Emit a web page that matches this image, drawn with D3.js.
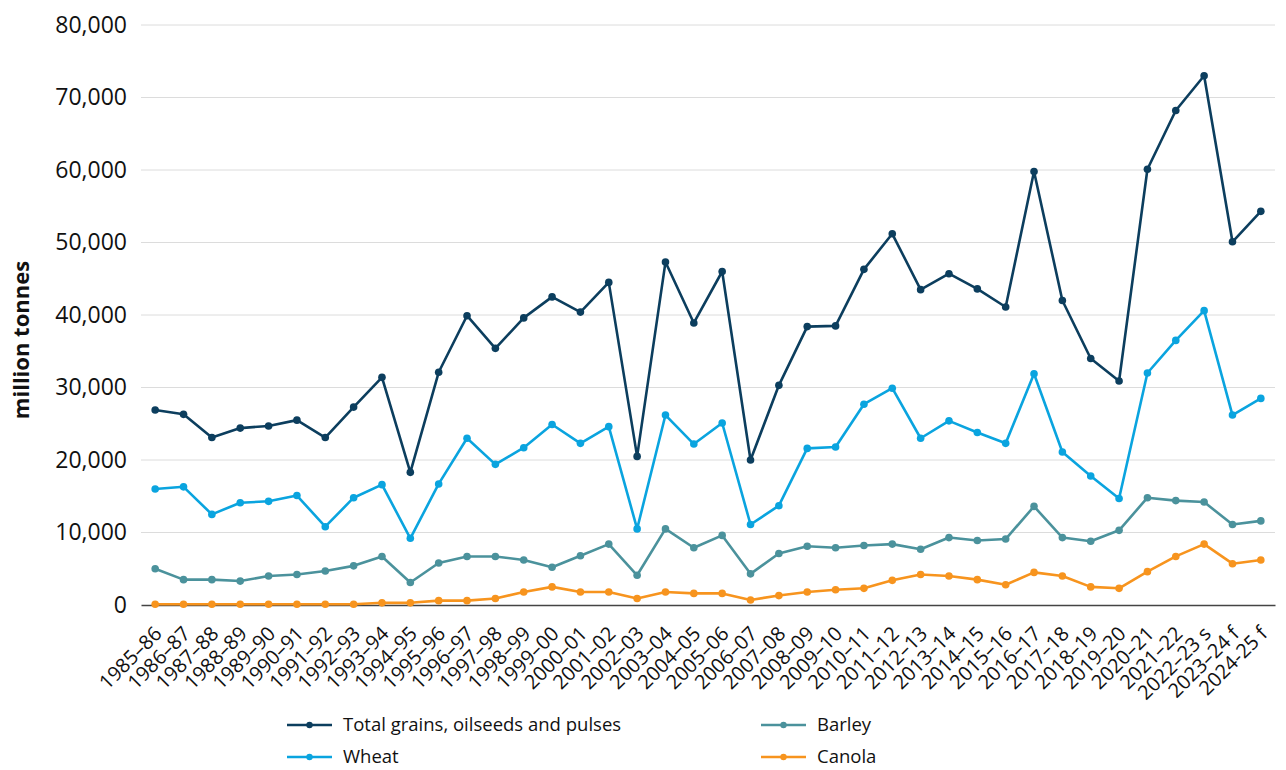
<!DOCTYPE html>
<html>
<head>
<meta charset="utf-8">
<script src="https://cdn.jsdelivr.net/npm/d3@7"></script>
<style>
  html, body { margin: 0; padding: 0; background: #fff; }
  svg { display: block; font-family: "Open Sans", "Noto Sans", sans-serif; }
</style>
</head>
<body>
<svg id="chart" width="1286" height="770"></svg>
<script>
// Crop years
const seasons = [
  "1985–86","1986–87","1987–88","1988–89","1989–90","1990–91","1991–92","1992–93",
  "1993–94","1994–95","1995–96","1996–97","1997–98","1998–99","1999–00","2000–01",
  "2001–02","2002–03","2003–04","2004–05","2005–06","2006–07","2007–08","2008–09",
  "2009–10","2010–11","2011–12","2012–13","2013–14","2014–15","2015–16","2016–17",
  "2017–18","2018–19","2019–20","2020–21","2021–22","2022–23 s","2023–24 f","2024-25 f"
];

// Production series
const totalGrains = [
  26900,26300,23100,24400,24700,25500,23100,27300,31400,18300,32100,39900,35400,39600,42500,40400,
  44500,20500,47300,38900,46000,20000,30300,38400,38500,46300,51200,43500,45700,43600,41100,59800,
  42000,34000,30900,60100,68200,73000,50100,54300
];
const wheat = [
  16000,16300,12500,14100,14300,15100,10800,14800,16600,9200,16700,23000,19400,21700,24900,22300,
  24600,10500,26200,22200,25100,11100,13700,21600,21800,27700,29900,23000,25400,23800,22300,31900,
  21100,17800,14700,32000,36500,40600,26200,28500
];
const barley = [
  5000,3500,3500,3300,4000,4200,4700,5400,6700,3100,5800,6700,6700,6200,5200,6800,
  8400,4100,10500,7900,9600,4300,7100,8100,7900,8200,8400,7700,9300,8900,9100,13600,
  9300,8800,10300,14800,14400,14200,11100,11600
];
const canola = [
  100,100,100,100,100,100,100,100,300,300,600,600,900,1800,2500,1800,
  1800,900,1800,1600,1600,700,1300,1800,2100,2300,3400,4200,4000,3500,2800,4500,
  4000,2500,2300,4600,6700,8400,5700,6200
];

const yTicks = [0,10000,20000,30000,40000,50000,60000,70000,80000];

const series = [
  { name: "Total grains, oilseeds and pulses", values: totalGrains, color: "#0c3e5e" },
  { name: "Wheat", values: wheat, color: "#0aa4df" },
  { name: "Barley", values: barley, color: "#4b929c" },
  { name: "Canola", values: canola, color: "#f7941e" }
];

const svg = d3.select("#chart");
const W = 1286, H = 770;
const margin = { left: 141, right: 11, top: 25, bottom: 165 };
const plotW = W - margin.left - margin.right;
const plotH = H - margin.top - margin.bottom;

const x = d3.scaleBand().domain(seasons).range([margin.left, margin.left + plotW]);
const cx = d => x(d) + x.bandwidth() / 2;
const y = d3.scaleLinear().domain([0, 80000]).range([margin.top + plotH, margin.top]);

// Horizontal gridlines
svg.append("g")
  .selectAll("line")
  .data(yTicks.filter(t => t > 0))
  .join("line")
  .attr("x1", margin.left).attr("x2", margin.left + plotW)
  .attr("y1", d => y(d)).attr("y2", d => y(d))
  .attr("stroke", "#dcdcdc").attr("stroke-width", 1);

// Y axis labels
const yAxis = d3.axisLeft(y).tickValues(yTicks).tickSize(0).tickPadding(14)
  .tickFormat(d3.format(","));
svg.append("g")
  .attr("transform", `translate(${margin.left},0)`)
  .call(yAxis)
  .call(g => g.select(".domain").remove())
  .call(g => g.selectAll("text")
    .attr("font-family", "'Open Sans', sans-serif")
    .attr("font-size", 23).attr("fill", "#111"));

// Y axis title
svg.append("text")
  .attr("transform", `translate(29, 340) rotate(-90)`)
  .attr("text-anchor", "middle")
  .attr("font-size", 22).attr("font-weight", 700).attr("fill", "#111")
  .text("million tonnes");

// X axis with diagonal season labels
const xAxis = d3.axisBottom(x).tickSize(0).tickPadding(0);
svg.append("g")
  .attr("transform", `translate(0,${margin.top + plotH})`)
  .call(xAxis)
  .call(g => g.select(".domain").attr("stroke", "#444").attr("stroke-width", 1.5))
  .call(g => g.selectAll("text")
    .attr("font-family", "'Open Sans', sans-serif")
    .attr("font-size", 20).attr("fill", "#111")
    .attr("text-anchor", "end")
    .attr("dy", 0)
    .attr("transform", "translate(8,30) rotate(-45)"));

// Lines and markers
const line = d3.line()
  .x((d, i) => cx(seasons[i]))
  .y(d => y(d));

const seriesG = svg.append("g");
// draw from bottom series upward so the total sits on top
[...series].reverse().forEach(s => {
  const g = seriesG.append("g");
  g.append("path")
    .datum(s.values)
    .attr("d", line)
    .attr("fill", "none")
    .attr("stroke", s.color)
    .attr("stroke-width", 2.6)
    .attr("stroke-linejoin", "round");
  g.selectAll("circle")
    .data(s.values)
    .join("circle")
    .attr("cx", (d, i) => cx(seasons[i]))
    .attr("cy", d => y(d))
    .attr("r", 3.8)
    .attr("fill", s.color);
});

// Legend
const legendPos = [
  { x: 287, y: 725 }, { x: 287, y: 757 },
  { x: 761, y: 725 }, { x: 761, y: 757 }
];
const legend = svg.append("g");
series.forEach((s, i) => {
  const p = legendPos[i];
  const g = legend.append("g").attr("transform", `translate(${p.x},${p.y})`);
  g.append("line").attr("x1", 0).attr("x2", 45).attr("y1", 0).attr("y2", 0)
    .attr("stroke", s.color).attr("stroke-width", 2.6);
  g.append("circle").attr("cx", 22.5).attr("cy", 0).attr("r", 3.2).attr("fill", s.color);
  g.append("text").attr("x", 56).attr("y", 0).attr("dy", "0.35em")
    .attr("font-size", 18.5).attr("fill", "#111").text(s.name);
});
</script>
</body>
</html>
